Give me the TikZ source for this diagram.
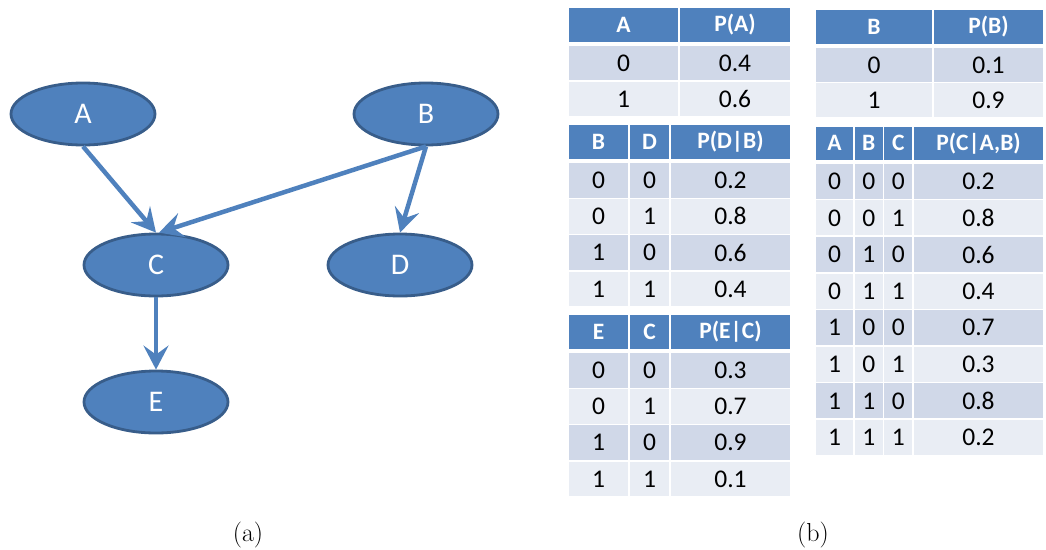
\documentclass[tikz,border=0pt]{standalone}
\usepackage{fontspec}
\newfontfamily\calibri{Carlito}
\usetikzlibrary{shapes.geometric,arrows.meta}

\definecolor{nodeblue}{HTML}{4F81BD}
\definecolor{nodeedge}{HTML}{385D8A}
\definecolor{rowdark}{HTML}{D0D8E8}
\definecolor{rowlight}{HTML}{E9EDF4}

\tikzset{
  var/.style={ellipse, fill=nodeblue, draw=nodeedge, line width=2.8pt,
    minimum width=144pt, minimum height=62pt, inner sep=0pt, text=white,
    font=\calibri\fontsize{30}{36}\selectfont},
  edge/.style={draw=nodeblue, line width=4.5pt,
    -{Stealth[length=24pt,width=25pt,inset=9pt]}},
  cellbase/.style={rectangle, inner sep=0pt, outer sep=0pt, draw=none},
  headcell/.style={cellbase, fill=nodeblue, text=white,
    font=\calibri\bfseries\fontsize{23.5}{28}\selectfont},
  bodycell/.style={cellbase, fill=#1, text=black,
    font=\calibri\fontsize{25.5}{30}\selectfont},
  caption/.style={font=\fontsize{26}{31}\selectfont, anchor=base, inner sep=0pt}
}

% table cell: name, x1, y1, x2, y2, style, text (1.5 units of white gap around each cell)
\newcommand\tcell[7]{%
  \node[#6, minimum width={#4-#2-1.5}, minimum height={#5-#3-1.5}]
    (#1) at ({(#2+#4)/2},{(#3+#5)/2}) {#7};}

\begin{document}
\begin{tikzpicture}[x=1pt, y=-1pt]
\useasboundingbox (0,0) rectangle (1046,549);

% ---- Bayesian network ----
\node[var] (A) at (83,114) {A};
\node[var] (B) at (426,114) {B};
\node[var] (C) at (156,265) {C};
\node[var] (D) at (400,265) {D};
\node[var] (E) at (156,402) {E};

\draw[edge] (A.south) -- (C.north);
\draw[edge] (B.south) -- ([xshift=3pt]C.north);
\draw[edge] (B.south) -- (D.north);
\draw[edge] (C.south) -- (E.north);

% ---- P(A) ----
\tcell{pa-h1}{568}{7}{679}{42.5}{headcell}{A}
\tcell{pa-h2}{679}{7}{791}{42.5}{headcell}{P(A)}
\tcell{pa-11}{568}{45.5}{679}{81}{bodycell=rowdark}{0}
\tcell{pa-12}{679}{45.5}{791}{81}{bodycell=rowdark}{0.4}
\tcell{pa-21}{568}{81}{679}{117}{bodycell=rowlight}{1}
\tcell{pa-22}{679}{81}{791}{117}{bodycell=rowlight}{0.6}

% ---- P(B) ----
\tcell{pb-h1}{815}{9}{933}{44.5}{headcell}{B}
\tcell{pb-h2}{933}{9}{1044}{44.5}{headcell}{P(B)}
\tcell{pb-11}{815}{47.5}{933}{82.5}{bodycell=rowdark}{0}
\tcell{pb-12}{933}{47.5}{1044}{82.5}{bodycell=rowdark}{0.1}
\tcell{pb-21}{815}{82.5}{933}{118}{bodycell=rowlight}{1}
\tcell{pb-22}{933}{82.5}{1044}{118}{bodycell=rowlight}{0.9}

% ---- P(D|B) ----
\tcell{pdb-h1}{568}{124}{629}{159.5}{headcell}{B}
\tcell{pdb-h2}{629}{124}{670}{159.5}{headcell}{D}
\tcell{pdb-h3}{670}{124}{791}{159.5}{headcell}{P(D|B)}
\foreach \b/\d/\p [count=\i] in {0/0/0.2, 0/1/0.8, 1/0/0.6, 1/1/0.4}{
  \pgfmathsetmacro\ya{162+(\i-1)*36.25}
  \pgfmathsetmacro\yb{\ya+36.25}
  \ifodd\i\def\rc{rowdark}\else\def\rc{rowlight}\fi
  \tcell{pdb-\i-1}{568}{\ya}{629}{\yb}{bodycell=\rc}{\b}
  \tcell{pdb-\i-2}{629}{\ya}{670}{\yb}{bodycell=\rc}{\d}
  \tcell{pdb-\i-3}{670}{\ya}{791}{\yb}{bodycell=\rc}{\p}
}

% ---- P(C|A,B) ----
\tcell{pcab-h1}{815}{126}{854}{160.5}{headcell}{A}
\tcell{pcab-h2}{854}{126}{883.5}{160.5}{headcell}{B}
\tcell{pcab-h3}{883.5}{126}{913}{160.5}{headcell}{C}
\tcell{pcab-h4}{913}{126}{1044}{160.5}{headcell}{P(C|A,B)}
\foreach \a/\b/\c/\p [count=\i] in {0/0/0/0.2, 0/0/1/0.8, 0/1/0/0.6, 0/1/1/0.4,
                                    1/0/0/0.7, 1/0/1/0.3, 1/1/0/0.8, 1/1/1/0.2}{
  \pgfmathsetmacro\ya{163+(\i-1)*36.6}
  \pgfmathsetmacro\yb{\ya+36.6}
  \ifodd\i\def\rc{rowdark}\else\def\rc{rowlight}\fi
  \tcell{pcab-\i-1}{815}{\ya}{854}{\yb}{bodycell=\rc}{\a}
  \tcell{pcab-\i-2}{854}{\ya}{883.5}{\yb}{bodycell=\rc}{\b}
  \tcell{pcab-\i-3}{883.5}{\ya}{913}{\yb}{bodycell=\rc}{\c}
  \tcell{pcab-\i-4}{913}{\ya}{1044}{\yb}{bodycell=\rc}{\p}
}

% ---- P(E|C) ----
\tcell{pec-h1}{568}{314}{629}{349.5}{headcell}{E}
\tcell{pec-h2}{629}{314}{670}{349.5}{headcell}{C}
\tcell{pec-h3}{670}{314}{791}{349.5}{headcell}{P(E|C)}
\foreach \e/\c/\p [count=\i] in {0/0/0.3, 0/1/0.7, 1/0/0.9, 1/1/0.1}{
  \pgfmathsetmacro\ya{352+(\i-1)*36.25}
  \pgfmathsetmacro\yb{\ya+36.25}
  \ifodd\i\def\rc{rowdark}\else\def\rc{rowlight}\fi
  \tcell{pec-\i-1}{568}{\ya}{629}{\yb}{bodycell=\rc}{\e}
  \tcell{pec-\i-2}{629}{\ya}{670}{\yb}{bodycell=\rc}{\c}
  \tcell{pec-\i-3}{670}{\ya}{791}{\yb}{bodycell=\rc}{\p}
}

% ---- sub-figure labels ----
\node[caption] (cap-a) at (248,541) {(a)};
\node[caption] (cap-b) at (813,541) {(b)};
\end{tikzpicture}
\end{document}
